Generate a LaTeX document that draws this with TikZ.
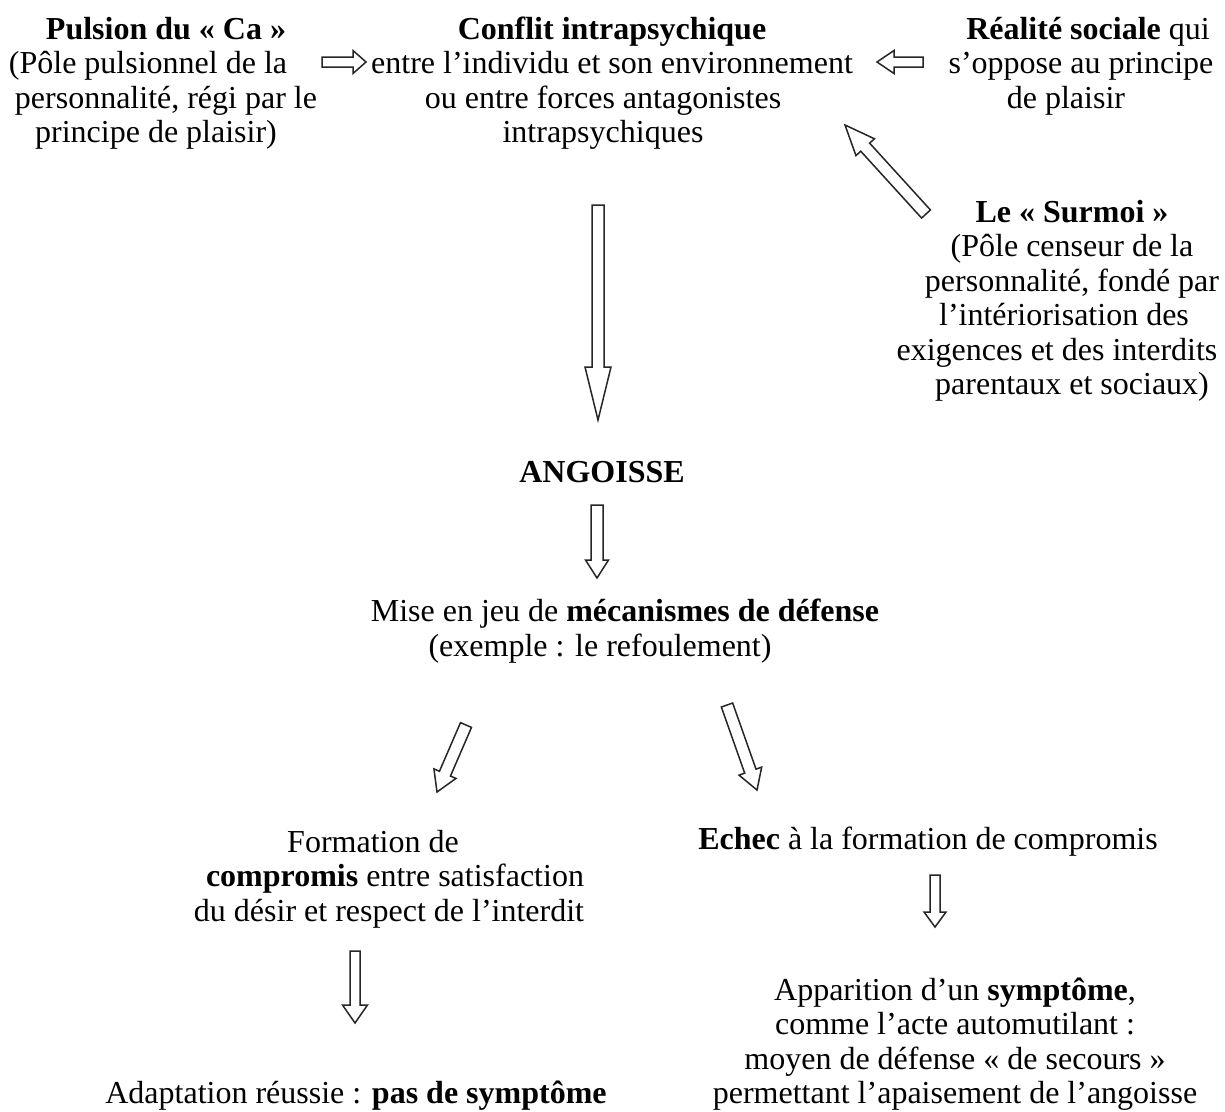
\documentclass[tikz,border=0pt]{standalone}
\usepackage{fontspec}
\setmainfont{Liberation Serif}
\usetikzlibrary{calc}
\tikzset{
  txt/.style={align=center, anchor=base, inner sep=0pt, font=\fontsize{32}{34.5}\selectfont},
  barrowline/.style={draw=black!85, line width=1.5pt, line join=miter, fill=white}
}
% a line followed by a blank of given width (shifts the centred line to the left)
\newcommand\tr[2]{\mbox{#1\kern#2}}
\newcommand\blockarrow[5]{%
  \path ($(#2)!#5!(#1)$) coordinate (bhx);
  \draw[barrowline] ($(#1)!#3!90:(#2)$) -- ($(bhx)!#3!90:(#2)$) -- ($(bhx)!#4!90:(#2)$) -- (#2)
     -- ($(bhx)!#4!-90:(#2)$) -- ($(bhx)!#3!-90:(#2)$) -- ($(#1)!#3!-90:(#2)$) -- cycle;}
\begin{document}
\begin{tikzpicture}[x=1pt,y=-1pt]
\useasboundingbox[fill=white] (0,0) rectangle (1225,1111);

% anchor=base is the baseline of the last line
\node[txt] (ca) at (166,142.5) {\textbf{Pulsion du «~Ca~»}\\\tr{(Pôle pulsionnel de la}{36pt}\\personnalité, régi par le\\\tr{principe de plaisir)}{20pt}};
\node[txt] (conflit) at (612,142.5) {\textbf{Conflit intrapsychique}\\entre l’individu et son environnement\\\tr{ou entre forces antagonistes}{18pt}\\\tr{intrapsychiques}{18pt}};
\node[txt] (realite) at (1088,108) {\textbf{Réalité sociale} qui\\\tr{s’oppose au principe}{14pt}\\\tr{de plaisir}{44pt}};
\node[txt] (surmoi) at (1072,394.5) {\textbf{Le «~Surmoi~»}\\(Pôle censeur de la\\personnalité, fondé par\\\tr{l’intériorisation des}{16pt}\\\tr{exigences et des interdits}{30pt}\\parentaux et sociaux)};
\node[txt] (angoisse) at (602,482) {\textbf{ANGOISSE}};
\node[txt] (mise) at (625,656) {Mise en jeu de \textbf{mécanismes de défense}\\\tr{(exemple : le refoulement)}{50pt}};
\node[txt] (formation) at (395,921) {\tr{Formation de}{44pt}\\\textbf{compromis} entre satisfaction\\\tr{du désir et respect de l’interdit}{12pt}};
\node[txt] (echec) at (928,849) {\textbf{Echec} à la formation de compromis};
\node[txt] (adaptation) at (356,1103) {Adaptation réussie : \textbf{pas de symptôme}};
\node[txt] (symptome) at (955,1103.5) {Apparition d’un \textbf{symptôme},\\comme l’acte automutilant :\\moyen de défense «~de secours~»\\permettant l’apaisement de l’angoisse};

\coordinate (a1s) at (322,62);  \coordinate (a1e) at (366,62);
\coordinate (a2s) at (923,62);  \coordinate (a2e) at (877,62);
\coordinate (a3s) at (926,214); \coordinate (a3e) at (845,125);
\coordinate (a4s) at (598,205); \coordinate (a4e) at (598,420);
\coordinate (a5s) at (597,505); \coordinate (a5e) at (597,578);
\coordinate (a6s) at (466,725); \coordinate (a6e) at (437,792);
\coordinate (a7s) at (727,705); \coordinate (a7e) at (757,790);
\coordinate (a8s) at (355,951); \coordinate (a8e) at (355,1023);
\coordinate (a9s) at (935,875); \coordinate (a9e) at (935,927);

\blockarrow{a1s}{a1e}{5pt}{11.5pt}{13pt}
\blockarrow{a2s}{a2e}{5pt}{11.5pt}{17pt}
\blockarrow{a3s}{a3e}{6pt}{12.5pt}{30pt}
\blockarrow{a4s}{a4e}{6pt}{13pt}{53pt}
\blockarrow{a5s}{a5e}{6pt}{11.5pt}{18pt}
\blockarrow{a6s}{a6e}{6pt}{12pt}{20pt}
\blockarrow{a7s}{a7e}{6pt}{12pt}{20pt}
\blockarrow{a8s}{a8e}{5pt}{12.5pt}{18pt}
\blockarrow{a9s}{a9e}{5pt}{11pt}{15pt}
\end{tikzpicture}
\end{document}
